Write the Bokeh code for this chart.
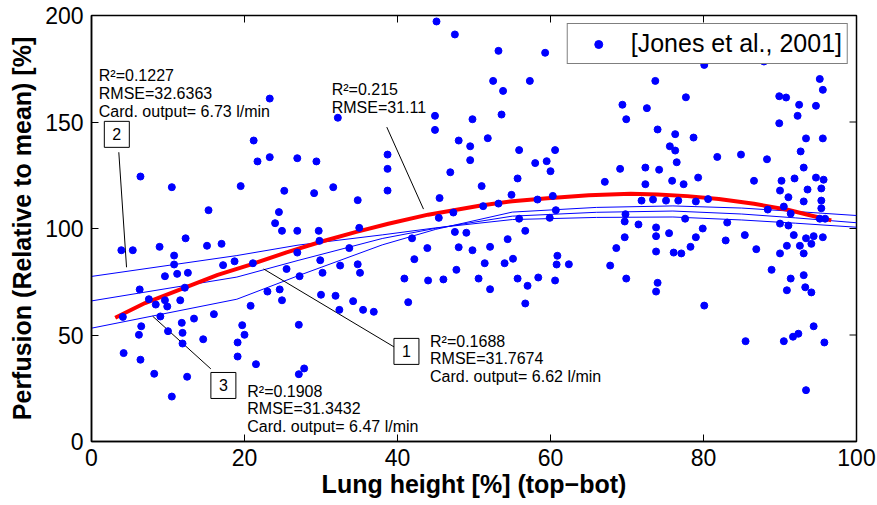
from bokeh.plotting import figure
from bokeh.models import (Range1d, FixedTicker, Label, Legend,
                          LegendItem, ColumnDataSource)
from bokeh.embed import file_html
from bokeh.resources import INLINE

# ---------------- data ----------------
meas_x = [45.1, 47.5, 23.3, 32.2, 44.9, 44.9, 48.0, 21.2, 21.7, 23.3, 26.9, 29.4, 38.7, 38.7, 46.9,
          6.4, 10.5, 19.5, 25.2, 29.1, 31.6, 38.7, 34.8, 45.5, 15.3, 24.5, 45.4, 47.3, 24.0,
          24.9, 26.9, 29.7, 35.0, 47.5, 49.0, 12.3, 3.9, 5.4, 8.9, 15.1, 17.0, 10.8, 10.8, 9.6,
          11.2, 12.6, 6.3, 7.5, 9.6, 8.4, 9.9, 11.6, 12.2, 4.1, 9.0, 6.5, 6.2, 10.0, 11.8, 11.9,
          13.4, 16.0, 11.9, 14.6, 4.2, 6.4, 8.2, 12.5, 10.5, 17.2, 18.7, 21.1, 20.8, 19.7, 20.0,
          19.1, 19.1, 21.5, 23.0, 24.6, 24.9, 25.5, 26.9, 27.2, 27.1, 27.1, 27.8, 29.8, 29.9,
          30.2, 30.0, 31.9, 32.4, 32.5, 33.7, 34.2, 34.8, 35.1, 35.5, 36.9, 41.9, 42.2, 40.9,
          41.4, 43.9, 44.0, 46.0, 47.7, 48.0,
          49.8, 52.1, 51.4, 50.6, 52.1, 54.4, 54.0, 55.1, 55.7, 56.7, 57.0, 56.7, 58.4, 60.9,
          60.8, 60.6, 62.4, 67.8, 68.6, 69.7, 69.7, 71.5, 69.9, 73.8, 73.8, 75.5, 73.8, 74.0,
          73.8, 76.1, 77.1, 78.3, 79.0, 79.9, 80.1, 83.1, 82.9, 85.4, 86.9, 85.5, 88.9, 90.0,
          90.0, 91.1, 91.8, 90.9, 91.4, 90.9, 92.6, 93.1, 93.1, 93.3, 94.1, 93.4, 94.4, 94.1,
          95.6, 90.5, 91.7, 92.4, 94.4, 95.8, 93.4,
          53.2, 59.3, 52.5, 57.3, 53.8, 53.6, 49.8, 51.8, 49.5, 49.5, 55.9, 58.0, 59.5, 60.6,
          60.0, 51.0, 55.7, 54.9, 51.2, 53.2, 58.3, 60.3, 60.7, 55.9, 59.9, 69.8, 67.1, 69.1,
          69.4, 69.9, 72.6, 73.7, 74.0, 72.4, 72.4, 74.2, 75.6, 76.3, 76.3, 76.5, 75.9, 77.4,
          79.3, 78.7, 77.7, 80.1, 81.8, 84.9, 88.3, 86.6, 87.9, 89.9, 90.8, 89.9, 92.5, 92.3,
          93.4, 92.7, 93.1, 91.9, 90.2, 90.0, 91.1, 90.5, 88.4, 91.4, 93.6, 93.1, 94.7, 95.7,
          95.4, 95.4, 95.4, 95.2, 95.6, 94.7, 95.6, 95.2, 95.9, 77.6, 71.9, 73.4, 75.1, 76.7,
          79.0, 80.6]
meas_y = [197.2, 191.1, 161.0, 152.0, 152.9, 146.3, 141.3, 141.3, 131.5, 133.5, 133.0, 131.5,
          134.7, 128.0, 126.4, 124.4, 119.4, 119.9, 117.7, 116.6, 119.4, 117.8, 113.3, 114.3,
          108.6, 107.7, 105.0, 107.5, 102.5,
          98.9, 98.9, 98.9, 100.3, 98.4, 98.0, 95.4, 89.8, 89.8, 91.4, 91.9, 92.8, 87.3, 83.1,
          77.6, 78.7, 79.2, 71.4, 66.8, 66.3, 64.3, 63.4, 66.3, 72.2, 58.5, 58.7, 54.1, 50.1,
          51.8, 55.7, 51.0, 57.7, 59.8, 46.0, 48.0, 41.5, 38.4, 31.8, 30.4, 21.1, 82.8, 84.6,
          83.7, 63.7, 54.6, 50.1, 46.5, 39.9, 36.3, 70.4, 71.4, 66.3, 81.0, 88.7, 77.6, 54.8,
          31.6, 34.3, 94.2, 85.1, 79.2, 68.9, 68.4, 61.8, 82.6, 90.8, 65.9, 83.2, 79.2, 61.8,
          60.9, 95.4, 85.6, 76.5, 65.4, 90.8, 75.6, 76.1, 80.6, 91.2,
          89.8, 91.4, 83.7, 76.5, 71.5, 95.0, 83.7, 85.8, 76.5, 98.9, 73.1, 64.8, 77.0, 87.2,
          83.1, 75.6, 83.2, 82.6, 90.8, 95.9, 103.3, 101.9, 76.5, 100.5, 96.4, 97.8, 89.2, 74.5,
          70.4, 88.7, 88.3, 91.4, 95.9, 100.0, 63.8, 102.8, 94.4, 96.9, 90.3, 47.1, 80.6, 88.3,
          102.3, 101.4, 96.9, 91.9, 76.5, 71.0, 91.9, 88.3, 78.1, 72.4, 70.0, 95.4, 96.4, 92.8,
          95.9, 47.1, 49.2, 50.6, 54.1, 46.5, 24.1,
          183.4, 182.5, 169.3, 169.3, 164.6, 153.5, 151.3, 142.4, 138.6, 132.1, 136.8, 130.7,
          131.6, 136.8, 126.9, 119.9, 123.5, 115.8, 110.5, 111.7, 113.6, 115.3, 108.6, 104.6,
          105.0, 106.7, 121.9, 128.0, 158.1, 151.3, 156.5, 169.3, 146.5, 128.6, 120.8, 127.6,
          138.6, 144.3, 136.6, 131.1, 122.4, 120.8, 123.9, 142.7, 161.6, 176.8, 133.6, 134.7,
          132.5, 122.4, 178.4, 162.1, 161.5, 149.4, 158.1, 152.9, 142.3, 136.2, 128.6, 123.5,
          122.4, 117.8, 114.7, 110.3, 108.9, 107.0, 118.3, 112.7, 123.9, 122.9, 118.8, 113.1,
          109.5, 170.2, 165.1, 157.6, 142.3, 104.6, 104.6, 104.6, 113.1, 113.6, 113.1, 113.1,
          112.7, 113.8]

# thick red fit
fit_x = [3.1, 7.0, 12.3, 16.5, 21.1, 25.5, 30.1, 34.5, 38.8, 44.0, 50.9, 55.0, 59.6,
         65.0, 70.5, 74.0, 77.9, 82.0, 86.6, 91.0, 93.5, 96.7]
fit_y = [58.1, 65.0, 72.4, 78.2, 83.4, 88.8, 93.9, 98.3, 102.2, 106.5, 110.8, 112.8, 114.2,
         115.6, 116.3, 116.0, 115.2, 113.8, 111.6, 108.8, 106.6, 103.8]

# thin blue model curves 1, 2, 3
model_x = [0, 19, 27, 38, 45, 55, 66, 76, 85, 92, 100]
model_2 = [77.5, 87.3, 92.2, 97.0, 100.3, 104.2, 105.2, 105.4, 104.0, 102.5, 100.6]
model_1 = [66.0, 77.2, 85.0, 95.3, 100.1, 105.8, 107.6, 108.2, 106.8, 105.0, 102.7]
model_3 = [53.2, 66.8, 77.8, 92.3, 99.6, 107.7, 109.9, 110.6, 109.6, 108.0, 106.1]

x_ticks = [0, 20, 40, 60, 80, 100]
y_ticks = [0, 50, 100, 150, 200]

FONT = "Liberation Sans"
W, H = 877, 505
BL, BR, BT, BB = 91, 21, 15, 64
X0, X1, Y0, Y1 = 0, 100, 0, 200
TICK = 7  # px

p = figure(width=W, height=H, output_backend="svg", toolbar_location=None,
           x_range=Range1d(X0, X1), y_range=Range1d(Y0, Y1),
           min_border_left=BL, min_border_right=BR, min_border_top=BT,
           min_border_bottom=BB, background_fill_color="white",
           border_fill_color="white")
p.grid.visible = False
p.outline_line_color = "black"
p.outline_line_width = 1.5

p.xaxis.ticker = FixedTicker(ticks=x_ticks)
p.yaxis.ticker = FixedTicker(ticks=y_ticks)
for ax in (p.xaxis[0], p.yaxis[0]):
    ax.major_tick_in = TICK
    ax.major_tick_out = 0
    ax.minor_tick_line_color = None
    ax.major_tick_line_color = "black"
    ax.axis_line_color = "black"
    ax.axis_line_width = 1.5
    ax.major_label_text_font = FONT
    ax.major_label_text_font_size = "23px"
    ax.major_label_text_color = "black"
    ax.axis_label_text_font = FONT
    ax.axis_label_text_font_size = "25px"
    ax.axis_label_text_font_style = "bold"
    ax.axis_label_text_color = "black"
p.xaxis.major_label_standoff = 7
p.yaxis.major_label_standoff = 8
p.xaxis.axis_label = "Lung height [%] (top\u2212bot)"
p.yaxis.axis_label = "Perfusion (Relative to mean) [%]"
p.xaxis.axis_label_standoff = 1
p.yaxis.axis_label_standoff = 6

# inward ticks on the top and right edges of the box
frame_w = W - BL - BR
frame_h = H - BT - BB
tx = TICK * (X1 - X0) / frame_w
ty = TICK * (Y1 - Y0) / frame_h
p.segment(x0=x_ticks, y0=[Y1] * len(x_ticks), x1=x_ticks, y1=[Y1 - ty] * len(x_ticks),
          line_color="black", line_width=1)
p.segment(x0=[X1] * len(y_ticks), y0=y_ticks, x1=[X1 - tx] * len(y_ticks), y1=y_ticks,
          line_color="black", line_width=1)

# model curves
p.line(model_x, model_2, line_color="#0000ff", line_width=1)
p.line(model_x, model_1, line_color="#0000ff", line_width=1)
p.line(model_x, model_3, line_color="#0000ff", line_width=1)
# thick red fit
p.line(fit_x, fit_y, line_color="#ff0000", line_width=4)

# leader lines for annotations
leaders = [((3.57, 4.58), (135.8, 81.8)),
           ((38.6, 43.4), (147.6, 109.1)),
           ((39.6, 22.5), (44.3, 81.0)),
           ((15.6, 8.0), (34.1, 58.8))]
for lx, ly in leaders:
    p.line(list(lx), list(ly), line_color="black", line_width=1)

# measurements
src = ColumnDataSource(dict(x=meas_x, y=meas_y))
r = p.scatter("x", "y", source=src, size=7, fill_color="#0000ff", line_color="#0000ff")

# numbered boxes
box_x = [41.17, 3.31, 17.24]
box_y = [42.3, 144.2, 26.3]
box_t = ["1", "2", "3"]
p.rect(box_x, box_y, width=25, height=26, width_units="screen", height_units="screen",
       fill_color="white", line_color="black", line_width=1)
for bx, by, bt in zip(box_x, box_y, box_t):
    p.add_layout(Label(x=bx, y=by, text=bt, text_align="center", text_baseline="middle",
                       text_font=FONT, text_font_size="16px", text_color="black"))

# annotation text blocks
blocks = [
    (0.95, [171.8, 163.2, 155.1], ["R\u00b2=0.1227", "RMSE=32.6363", "Card. output= 6.73 l/min"]),
    (31.4, [165.3, 157.0], ["R\u00b2=0.215", "RMSE=31.11"]),
    (44.25, [47.1, 38.8, 30.5], ["R\u00b2=0.1688", "RMSE=31.7674", "Card. output= 6.62 l/min"]),
    (20.36, [23.6, 15.3, 7.2], ["R\u00b2=0.1908", "RMSE=31.3432", "Card. output= 6.47 l/min"]),
]
for bx, ys, texts in blocks:
    for yy, tt in zip(ys, texts):
        p.add_layout(Label(x=bx, y=yy, text=tt, text_align="left", text_baseline="alphabetic",
                           text_font=FONT, text_font_size="16px", text_color="black"))

legend = Legend(items=[LegendItem(label="[Jones et al., 2001]", renderers=[r])],
                location="top_right", margin=8, padding=5, spacing=0,
                glyph_width=51, glyph_height=20, label_standoff=7,
                label_text_font=FONT, label_text_font_size="25px",
                label_text_color="black", border_line_color="black",
                border_line_width=1, background_fill_color="white",
                background_fill_alpha=1.0)
p.add_layout(legend)

open("out.html", "w").write(file_html(p, INLINE))
